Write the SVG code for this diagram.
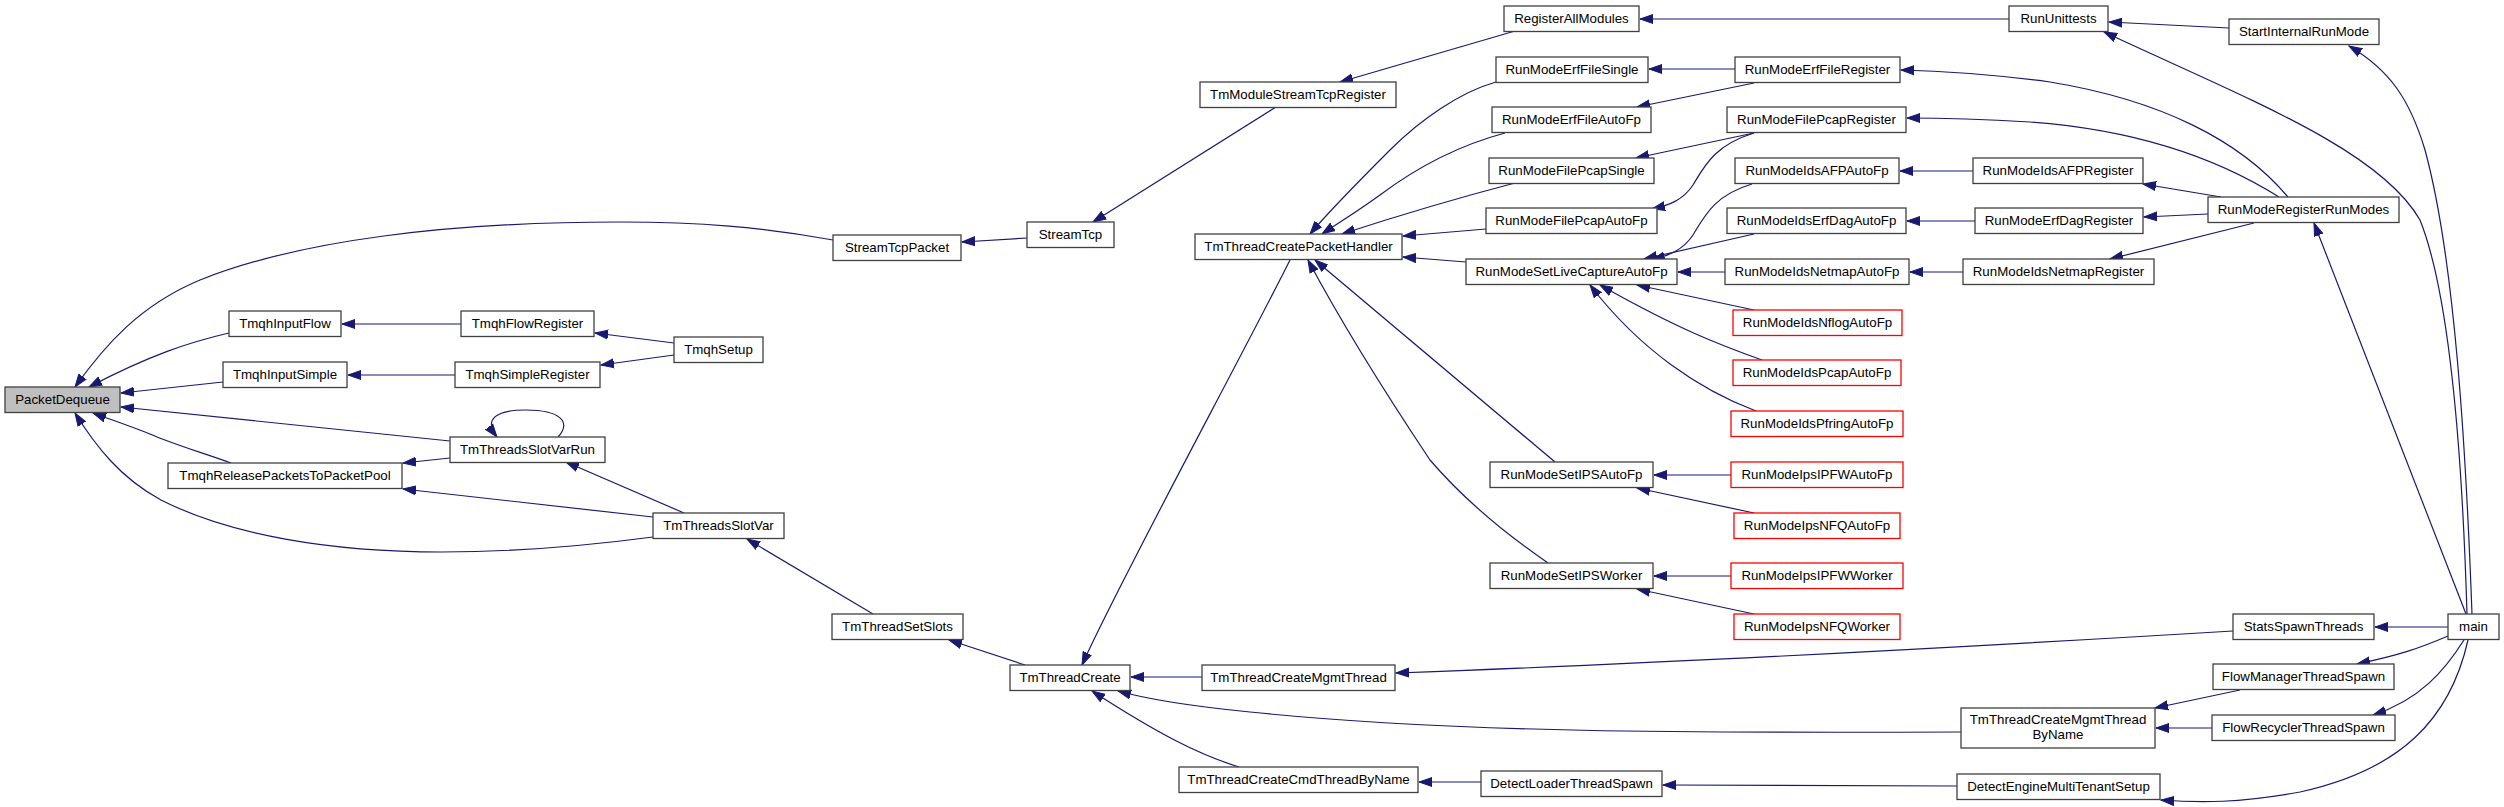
<svg xmlns="http://www.w3.org/2000/svg" width="2504" height="807" viewBox="0 0 2504 807">
<style>
.node rect{fill:#ffffff;stroke:#404040;stroke-width:1.3}
.node.red rect{stroke:#ff0000}
.node.cur rect{fill:#bfbfbf}
.node text{font-family:"Liberation Sans",Arial,Helvetica,sans-serif;font-size:13.3px;fill:#000;text-anchor:middle}
#edges path{fill:none;stroke:#191970;stroke-width:1.2;marker-end:url(#arr)}
</style>
<defs>
<marker id="arr" markerUnits="userSpaceOnUse" markerWidth="15" markerHeight="11" refX="13" refY="5.5" orient="auto" viewBox="0 0 15 11">
<path d="M0,1 L13,5.5 L0,10 Z" fill="#191970" stroke="#191970" stroke-width="1"/>
</marker>
</defs>
<rect width="2504" height="807" fill="#ffffff"/>
<g id="edges">
<path d="M833,240 C760,227 700,222 620,222 C450,222 300,240 200,280 C140,305 105,345 75,387"/>
<path d="M229,333 C190,342 150,355 89,387"/>
<path d="M223,382 L121,393"/>
<path d="M450,441 L121,407"/>
<path d="M231,463 C200,452 170,443 150,434 C130,426 112,420 93,413"/>
<path d="M653,537 C600,544 520,552 442,552 C330,552 230,535 161,500 C120,478 95,445 75,413"/>
<path d="M461,324 L342,324"/>
<path d="M455,375 L348,375"/>
<path d="M674,343 L595,333"/>
<path d="M674,355 L601,365"/>
<path d="M558,437 C572,422 560,410 526,410 C494,410 484,420 497,437"/>
<path d="M450,458 L403,463"/>
<path d="M653,517 L403,489"/>
<path d="M684,513 L566,462"/>
<path d="M873,614 L747,539"/>
<path d="M1025,665 L949,640"/>
<path d="M1027,238 L962,242"/>
<path d="M1276,107 L1093,222"/>
<path d="M1515,31 L1340,82"/>
<path d="M1290,260 C1240,360 1120,580 1082,665"/>
<path d="M1202,677 L1131,677"/>
<path d="M1961,732 C1700,733 1450,733 1250,712 C1190,706 1150,700 1118,691"/>
<path d="M1239,767 C1200,755 1160,735 1092,691"/>
<path d="M1481,782 L1419,782"/>
<path d="M1957,786 L1663,785"/>
<path d="M1496,82 C1460,92 1420,120 1390,150 C1360,180 1330,210 1310,234"/>
<path d="M1505,133 C1460,145 1420,165 1380,195 C1355,213 1340,222 1322,234"/>
<path d="M1515,183 C1450,200 1400,215 1342,234"/>
<path d="M1486,229 L1403,236"/>
<path d="M1466,262 L1403,257"/>
<path d="M1555,462 L1315,260"/>
<path d="M1548,563 C1500,530 1460,495 1430,460 C1390,400 1340,320 1308,260"/>
<path d="M1735,69 L1649,69"/>
<path d="M1754,83 L1637,107"/>
<path d="M1754,133 L1636,158"/>
<path d="M1754,133 C1715,145 1705,165 1693,185 C1683,200 1670,205 1652,209"/>
<path d="M1752,184 C1715,195 1705,215 1693,235 C1683,250 1670,255 1652,260"/>
<path d="M1754,234 L1644,259"/>
<path d="M1725,272 L1678,272"/>
<path d="M1754,310 L1637,285"/>
<path d="M1762,360 C1720,345 1680,330 1600,285"/>
<path d="M1756,411 C1700,390 1640,350 1590,285"/>
<path d="M1731,475 L1654,475"/>
<path d="M1754,513 L1637,488"/>
<path d="M1731,576 L1654,576"/>
<path d="M1754,614 L1637,589"/>
<path d="M2009,19 L1640,19"/>
<path d="M2229,28 L2109,22"/>
<path d="M2467,614 C2463,480 2452,300 2420,220 C2380,150 2250,100 2104,32"/>
<path d="M2472,614 C2466,450 2455,260 2425,150 C2410,100 2390,70 2349,46"/>
<path d="M2466,614 L2314,223"/>
<path d="M2288,197 C2240,140 2160,100 2050,82 C1990,74 1940,71 1901,70"/>
<path d="M2279,197 C2220,160 2140,130 2030,122 C1980,119 1940,118 1907,118"/>
<path d="M2221,197 L2143,184"/>
<path d="M2208,214 L2144,217"/>
<path d="M2254,223 L2110,259"/>
<path d="M1973,171 L1900,171"/>
<path d="M1975,221 L1907,221"/>
<path d="M1963,272 L1910,272"/>
<path d="M2448,627 L2375,627"/>
<path d="M2233,631 C2000,645 1700,662 1396,673"/>
<path d="M2448,636 C2420,648 2400,655 2357,664"/>
<path d="M2464,640 C2445,670 2420,700 2373,715"/>
<path d="M2468,640 C2450,720 2400,770 2300,792 C2240,803 2200,803 2161,800"/>
<path d="M2240,690 L2155,708"/>
<path d="M2212,728 L2156,728"/>
</g>
<g id="n_PacketDequeue" class="node cur"><rect x="5" y="387" width="115" height="25.5"/><text x="62.5" y="404">PacketDequeue</text></g>
<g id="n_TmqhInputFlow" class="node"><rect x="229" y="311" width="112" height="25.5"/><text x="285" y="328">TmqhInputFlow</text></g>
<g id="n_TmqhFlowRegister" class="node"><rect x="461" y="311" width="133" height="25.5"/><text x="527.5" y="328">TmqhFlowRegister</text></g>
<g id="n_TmqhInputSimple" class="node"><rect x="223" y="362" width="124" height="25.5"/><text x="285" y="379">TmqhInputSimple</text></g>
<g id="n_TmqhSimpleRegister" class="node"><rect x="455" y="362" width="145" height="25.5"/><text x="527.5" y="379">TmqhSimpleRegister</text></g>
<g id="n_TmqhReleasePacketsToPacketPool" class="node"><rect x="168" y="463" width="234" height="25.5"/><text x="285" y="480">TmqhReleasePacketsToPacketPool</text></g>
<g id="n_TmThreadsSlotVarRun" class="node"><rect x="450" y="437" width="155" height="25.5"/><text x="527.5" y="454">TmThreadsSlotVarRun</text></g>
<g id="n_StreamTcpPacket" class="node"><rect x="833" y="235" width="128" height="25.5"/><text x="897" y="252">StreamTcpPacket</text></g>
<g id="n_StreamTcp" class="node"><rect x="1027" y="222" width="87" height="25.5"/><text x="1070.5" y="239">StreamTcp</text></g>
<g id="n_TmqhSetup" class="node"><rect x="674" y="337" width="89" height="25.5"/><text x="718.5" y="354">TmqhSetup</text></g>
<g id="n_TmModuleStreamTcpRegister" class="node"><rect x="1200" y="82" width="196" height="25.5"/><text x="1298" y="99">TmModuleStreamTcpRegister</text></g>
<g id="n_TmThreadCreatePacketHandler" class="node"><rect x="1195" y="234" width="207" height="25.5"/><text x="1298.5" y="251">TmThreadCreatePacketHandler</text></g>
<g id="n_TmThreadsSlotVar" class="node"><rect x="653" y="513" width="131" height="25.5"/><text x="718.5" y="530">TmThreadsSlotVar</text></g>
<g id="n_TmThreadSetSlots" class="node"><rect x="832" y="614" width="131" height="25.5"/><text x="897.5" y="631">TmThreadSetSlots</text></g>
<g id="n_TmThreadCreate" class="node"><rect x="1010" y="665" width="120" height="25.5"/><text x="1070" y="682">TmThreadCreate</text></g>
<g id="n_TmThreadCreateMgmtThread" class="node"><rect x="1202" y="665" width="193" height="25.5"/><text x="1298.5" y="682">TmThreadCreateMgmtThread</text></g>
<g id="n_TmThreadCreateCmdThreadByName" class="node"><rect x="1179" y="767" width="239" height="25.5"/><text x="1298.5" y="784">TmThreadCreateCmdThreadByName</text></g>
<g id="n_RegisterAllModules" class="node"><rect x="1504" y="6" width="135" height="25.5"/><text x="1571.5" y="23">RegisterAllModules</text></g>
<g id="n_RunModeErfFileSingle" class="node"><rect x="1496" y="57" width="152" height="25.5"/><text x="1572" y="74">RunModeErfFileSingle</text></g>
<g id="n_RunModeErfFileAutoFp" class="node"><rect x="1492" y="107" width="159" height="25.5"/><text x="1571.5" y="124">RunModeErfFileAutoFp</text></g>
<g id="n_RunModeFilePcapSingle" class="node"><rect x="1489" y="158" width="165" height="25.5"/><text x="1571.5" y="175">RunModeFilePcapSingle</text></g>
<g id="n_RunModeFilePcapAutoFp" class="node"><rect x="1486" y="208" width="171" height="25.5"/><text x="1571.5" y="225">RunModeFilePcapAutoFp</text></g>
<g id="n_RunModeSetLiveCaptureAutoFp" class="node"><rect x="1466" y="259" width="211" height="25.5"/><text x="1571.5" y="276">RunModeSetLiveCaptureAutoFp</text></g>
<g id="n_RunModeErfFileRegister" class="node"><rect x="1735" y="57" width="165" height="25.5"/><text x="1817.5" y="74">RunModeErfFileRegister</text></g>
<g id="n_RunModeFilePcapRegister" class="node"><rect x="1727" y="107" width="179" height="25.5"/><text x="1816.5" y="124">RunModeFilePcapRegister</text></g>
<g id="n_RunModeIdsAFPAutoFp" class="node"><rect x="1735" y="158" width="164" height="25.5"/><text x="1817" y="175">RunModeIdsAFPAutoFp</text></g>
<g id="n_RunModeIdsErfDagAutoFp" class="node"><rect x="1727" y="208" width="179" height="25.5"/><text x="1816.5" y="225">RunModeIdsErfDagAutoFp</text></g>
<g id="n_RunModeIdsNetmapAutoFp" class="node"><rect x="1725" y="259" width="184" height="25.5"/><text x="1817" y="276">RunModeIdsNetmapAutoFp</text></g>
<g id="n_RunModeIdsNflogAutoFp" class="node red"><rect x="1733" y="310" width="169" height="25.5"/><text x="1817.5" y="327">RunModeIdsNflogAutoFp</text></g>
<g id="n_RunModeIdsPcapAutoFp" class="node red"><rect x="1733" y="360" width="168" height="25.5"/><text x="1817" y="377">RunModeIdsPcapAutoFp</text></g>
<g id="n_RunModeIdsPfringAutoFp" class="node red"><rect x="1731" y="411" width="172" height="25.5"/><text x="1817" y="428">RunModeIdsPfringAutoFp</text></g>
<g id="n_RunModeSetIPSAutoFp" class="node"><rect x="1490" y="462" width="163" height="25.5"/><text x="1571.5" y="479">RunModeSetIPSAutoFp</text></g>
<g id="n_RunModeIpsIPFWAutoFp" class="node red"><rect x="1731" y="462" width="172" height="25.5"/><text x="1817" y="479">RunModeIpsIPFWAutoFp</text></g>
<g id="n_RunModeIpsNFQAutoFp" class="node red"><rect x="1734" y="513" width="166" height="25.5"/><text x="1817" y="530">RunModeIpsNFQAutoFp</text></g>
<g id="n_RunModeSetIPSWorker" class="node"><rect x="1490" y="563" width="163" height="25.5"/><text x="1571.5" y="580">RunModeSetIPSWorker</text></g>
<g id="n_RunModeIpsIPFWWorker" class="node red"><rect x="1731" y="563" width="172" height="25.5"/><text x="1817" y="580">RunModeIpsIPFWWorker</text></g>
<g id="n_RunModeIpsNFQWorker" class="node red"><rect x="1734" y="614" width="166" height="25.5"/><text x="1817" y="631">RunModeIpsNFQWorker</text></g>
<g id="n_DetectLoaderThreadSpawn" class="node"><rect x="1481" y="771" width="181" height="25.5"/><text x="1571.5" y="788">DetectLoaderThreadSpawn</text></g>
<g id="n_RunUnittests" class="node"><rect x="2009" y="6" width="99" height="25.5"/><text x="2058.5" y="23">RunUnittests</text></g>
<g id="n_StartInternalRunMode" class="node"><rect x="2229" y="19" width="150" height="25.5"/><text x="2304" y="36">StartInternalRunMode</text></g>
<g id="n_RunModeIdsAFPRegister" class="node"><rect x="1973" y="158" width="170" height="25.5"/><text x="2058" y="175">RunModeIdsAFPRegister</text></g>
<g id="n_RunModeErfDagRegister" class="node"><rect x="1975" y="208" width="168" height="25.5"/><text x="2059" y="225">RunModeErfDagRegister</text></g>
<g id="n_RunModeIdsNetmapRegister" class="node"><rect x="1963" y="259" width="191" height="25.5"/><text x="2058.5" y="276">RunModeIdsNetmapRegister</text></g>
<g id="n_RunModeRegisterRunModes" class="node"><rect x="2208" y="197" width="191" height="25.5"/><text x="2303.5" y="214">RunModeRegisterRunModes</text></g>
<g id="n_StatsSpawnThreads" class="node"><rect x="2233" y="614" width="141" height="25.5"/><text x="2303.5" y="631">StatsSpawnThreads</text></g>
<g id="n_main" class="node"><rect x="2448" y="614" width="51" height="25.5"/><text x="2473.5" y="631">main</text></g>
<g id="n_FlowManagerThreadSpawn" class="node"><rect x="2213" y="664" width="181" height="25.5"/><text x="2303.5" y="681">FlowManagerThreadSpawn</text></g>
<g id="n_TmThreadCreateMgmtThreadByName" class="node"><rect x="1961" y="708" width="194" height="40"/><text x="2058" y="724">TmThreadCreateMgmtThread</text><text x="2058" y="739">ByName</text></g>
<g id="n_FlowRecyclerThreadSpawn" class="node"><rect x="2212" y="715" width="183" height="25.5"/><text x="2303.5" y="732">FlowRecyclerThreadSpawn</text></g>
<g id="n_DetectEngineMultiTenantSetup" class="node"><rect x="1957" y="774" width="203" height="25.5"/><text x="2058.5" y="791">DetectEngineMultiTenantSetup</text></g>
</svg>
